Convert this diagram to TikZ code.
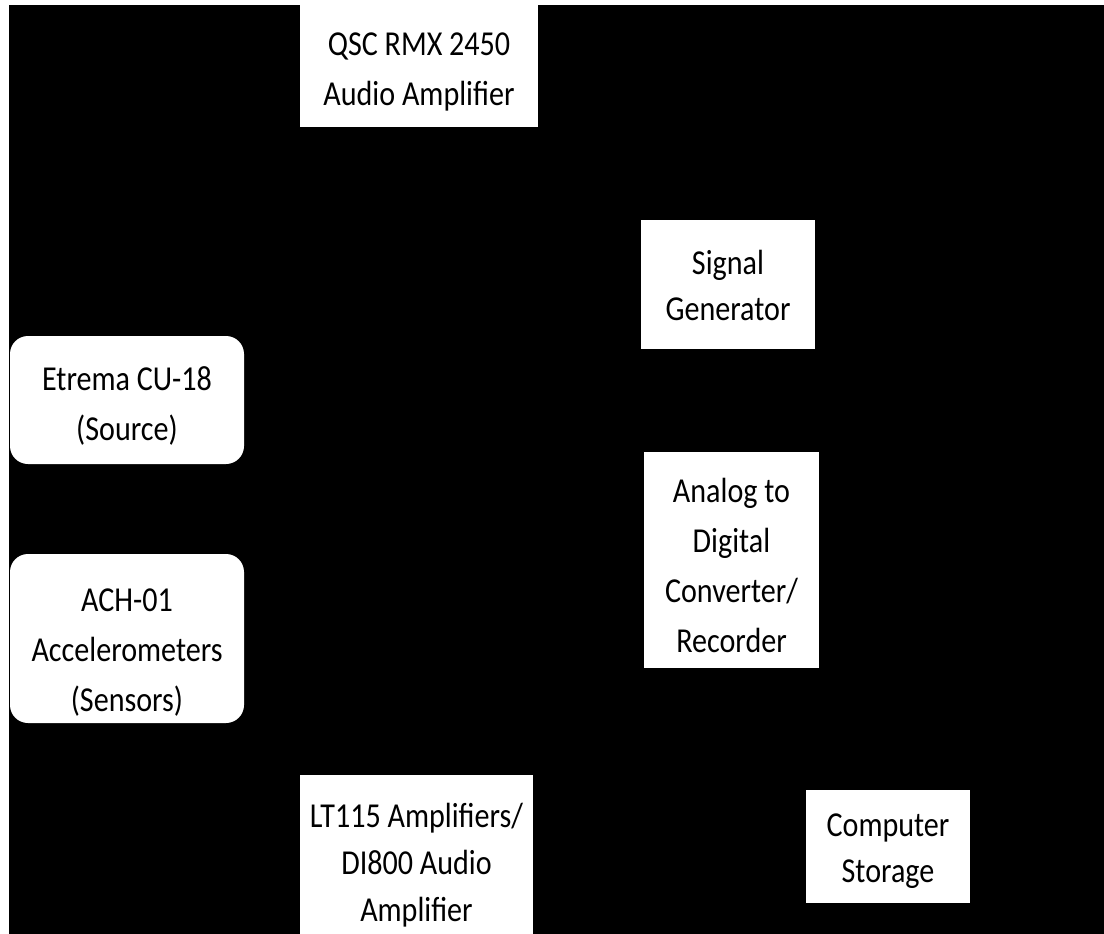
\documentclass[tikz,border=0pt]{standalone}
\usepackage{fontspec}
\setmainfont{Carlito}[FakeStretch=0.86]
\tikzset{blk/.style={fill=white,draw=none,inner sep=0pt},
         rblk/.style={blk,rounded corners=18pt},
         lbl/.style={align=center,inner sep=0pt,font=\fontsize{35}{50}\selectfont}}

\begin{document}
\begin{tikzpicture}[x=1pt,y=-1pt]
    \useasboundingbox (0,0) rectangle (1104,934);
    \clip (0,0) rectangle (1104,934);
    \fill[white] (0,0) rectangle (1104,934);
    \fill[black] (9,5) rectangle (1104,934);      % backdrop
    % boxes
    \node[blk,minimum width=238pt,minimum height=122pt] (qsc) at (419,66) {};
    \node[blk,minimum width=174pt,minimum height=129pt] (siggen) at (728,284.5) {};
    \node[rblk,minimum width=234pt,minimum height=128pt] (etrema) at (127,400) {};
    \node[rblk,minimum width=234pt,minimum height=169pt] (ach) at (127,638.5) {};
    \node[blk,minimum width=175pt,minimum height=216pt] (adc) at (731.5,560) {};
    \node[blk,minimum width=233pt,minimum height=182pt] (lt115) at (416.5,866) {};
    \node[blk,minimum width=164pt,minimum height=113pt] (storage) at (888,846.5) {};
    % texts
    \node[lbl] (qsc-t) at ([yshift=-6pt]qsc.center) {QSC RMX 2450\\Audio Amplifier};
    \node[lbl,font=\fontsize{35}{46}\selectfont] (siggen-t) at ([yshift=-1pt]siggen.center) {Signal\\Generator};
    \node[lbl] (etrema-t) at ([yshift=-6pt]etrema.center) {Etrema CU-18\\(Source)};
    \node[lbl] (ach-t) at ([yshift=-14pt]ach.center) {ACH-01\\Accelerometers\\(Sensors)};
    \node[lbl] (adc-t) at ([yshift=-5pt]adc.center) {Analog to\\Digital\\Converter/\\Recorder};
    \node[lbl,font=\fontsize{35}{47}\selectfont] (lt115-t) at ([yshift=1pt]lt115.center) {LT115 Amplifiers/\\DI800 Audio\\Amplifier};
    \node[lbl,font=\fontsize{35}{46}\selectfont] (storage-t) at ([yshift=-5pt]storage.center) {Computer\\Storage};
\end{tikzpicture}
\end{document}
